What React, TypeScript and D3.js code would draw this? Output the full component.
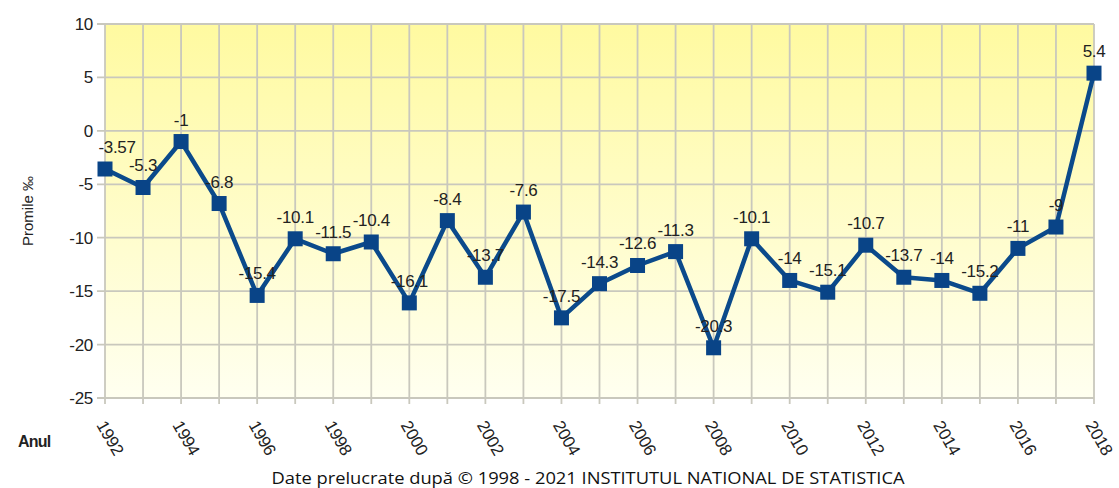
import React, { useEffect, useRef } from "react";
import * as d3 from "d3";

const years = [
  1992, 1993, 1994, 1995, 1996, 1997, 1998, 1999, 2000, 2001, 2002, 2003, 2004,
  2005, 2006, 2007, 2008, 2009, 2010, 2011, 2012, 2013, 2014, 2015, 2016, 2017, 2018,
];
const values = [
  -3.57, -5.3, -1, -6.8, -15.4, -10.1, -11.5, -10.4, -16.1, -8.4, -13.7, -7.6, -17.5,
  -14.3, -12.6, -11.3, -20.3, -10.1, -14, -15.1, -10.7, -13.7, -14, -15.2, -11, -9, 5.4,
];
const yTicks = [10, 5, 0, -5, -10, -15, -20, -25];
const yearLabels = [1992, 1994, 1996, 1998, 2000, 2002, 2004, 2006, 2008, 2010, 2012, 2014, 2016, 2018];

const W = 1119;
const H = 488;
const margin = { top: 24, right: 25, bottom: 90, left: 105 };
const font = "Arial, 'Liberation Sans', sans-serif";

export default function App() {
  const svgRef = useRef<SVGSVGElement>(null);

  useEffect(() => {
    if (!svgRef.current) return;
    const svg = d3.select(svgRef.current);
    svg.selectAll("*").remove();

    const x = d3.scaleLinear().domain([1992, 2018]).range([margin.left, W - margin.right]);
    const y = d3.scaleLinear().domain([-25, 10]).range([H - margin.bottom, margin.top]);
    const [x0, x1] = x.range();
    const [yb, yt] = y.range();

    // background gradient
    const defs = svg.append("defs");
    const grad = defs.append("linearGradient").attr("id", "bg").attr("x1", 0).attr("y1", 0).attr("x2", 0).attr("y2", 1);
    grad.append("stop").attr("offset", "0%").attr("stop-color", "#fffaa0");
    grad.append("stop").attr("offset", "100%").attr("stop-color", "#fffff0");
    svg.append("rect").attr("x", x0).attr("y", yt).attr("width", x1 - x0).attr("height", yb - yt).attr("fill", "url(#bg)");

    const gridColor = "#c9c8bd";
    // vertical grid + bottom ticks
    svg.append("g").selectAll("line").data(years).join("line")
      .attr("x1", d => x(d)).attr("x2", d => x(d))
      .attr("y1", yt).attr("y2", yb + 6)
      .attr("stroke", gridColor).attr("stroke-width", 1.8);
    // horizontal grid + left ticks
    svg.append("g").selectAll("line").data(yTicks).join("line")
      .attr("x1", x0 - 8).attr("x2", x1)
      .attr("y1", d => y(d)).attr("y2", d => y(d))
      .attr("stroke", gridColor).attr("stroke-width", 1.8);

    // y tick labels
    svg.append("g").selectAll("text").data(yTicks).join("text")
      .attr("x", x0 - 12).attr("y", d => y(d)).attr("dy", "0.35em")
      .attr("text-anchor", "end").attr("font-family", font).attr("font-size", 17)
      .attr("letter-spacing", -0.3).attr("fill", "#222")
      .text(d => d);

    // x tick labels (rotated)
    svg.append("g").selectAll("text").data(yearLabels).join("text")
      .attr("transform", d => `translate(${x(d) - 9},${yb + 27}) rotate(60)`)
      .attr("font-family", font).attr("font-size", 17).attr("letter-spacing", -0.3)
      .attr("fill", "#222")
      .text(d => d);

    // line
    const pts = years.map((yr, i) => ({ yr, v: values[i] }));
    const line = d3.line<{ yr: number; v: number }>().x(d => x(d.yr)).y(d => y(d.v));
    svg.append("path").datum(pts).attr("d", line)
      .attr("fill", "none").attr("stroke", "#0b4a8b").attr("stroke-width", 4.5).attr("stroke-linejoin", "round");

    const s = 15;
    svg.append("g").selectAll("rect").data(pts).join("rect")
      .attr("x", d => x(d.yr) - s / 2).attr("y", d => y(d.v) - s / 2)
      .attr("width", s).attr("height", s).attr("fill", "#094487");

    // value labels
    svg.append("g").selectAll("text").data(pts).join("text")
      .attr("x", (d, i) => x(d.yr) + (i === 0 ? 12 : 0)).attr("y", d => y(d.v) - 16)
      .attr("text-anchor", "middle").attr("font-family", font).attr("font-size", 17)
      .attr("letter-spacing", -0.3).attr("fill", "#222")
      .text(d => d.v);

    // axis title
    svg.append("text")
      .attr("transform", `translate(33,${(yt + yb) / 2}) rotate(-90)`)
      .attr("text-anchor", "middle").attr("font-family", font).attr("font-size", 15)
      .attr("fill", "#222").text("Promile ‰");

    svg.append("text").attr("x", 18).attr("y", 447)
      .attr("font-family", font).attr("font-size", 16).attr("font-weight", "bold")
      .attr("letter-spacing", -0.8).attr("fill", "#222").text("Anul");

    svg.append("text").attr("x", 588).attr("y", 484).attr("text-anchor", "middle")
      .attr("font-family", "'Open Sans', 'Noto Sans', sans-serif").attr("font-size", 16)
      .attr("fill", "#111").attr("textLength", 633).attr("lengthAdjust", "spacingAndGlyphs")
      .text("Date prelucrate după © 1998 - 2021 INSTITUTUL NATIONAL DE STATISTICA");
  }, []);

  return (
    <div style={{ position: "absolute", left: 0, top: 0, width: W, height: H, background: "#fff" }}>
      <svg ref={svgRef} width={W} height={H} />
    </div>
  );
}
